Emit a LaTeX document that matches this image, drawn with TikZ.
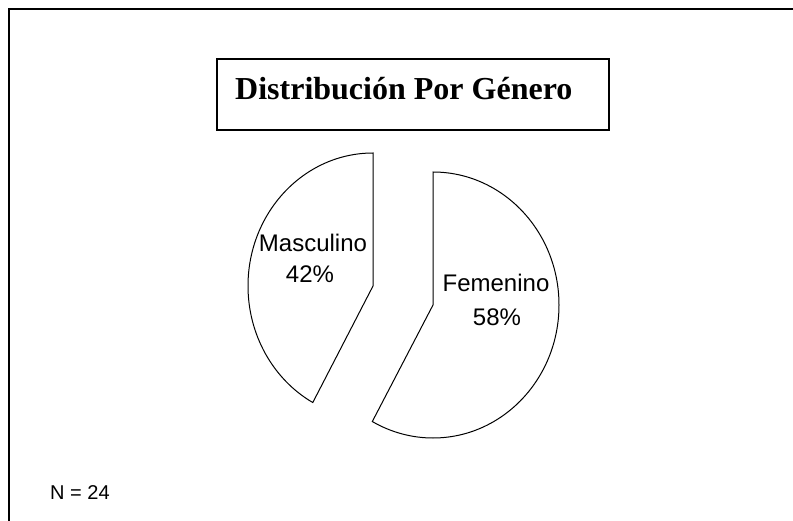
\documentclass[tikz,border=0pt]{standalone}
\usepackage{fontspec}
\setmainfont{Liberation Serif}
\newfontfamily\arialfont{Liberation Sans}
\tikzset{
  frameline/.style={line width=2pt, draw=black},
  titlebox/.style={line width=2pt, draw=black},
  slice/.style={line width=1pt, draw=black, fill=white, line join=miter},
  pielabel/.style={inner sep=0pt, anchor=base, font=\arialfont\fontsize{24}{28}\selectfont},
  notelabel/.style={inner sep=0pt, anchor=base west, font=\arialfont\fontsize{20}{24}\selectfont},
  titlelabel/.style={inner sep=0pt, anchor=base west, font=\bfseries\fontsize{32}{36}\selectfont}
}
\begin{document}
\begin{tikzpicture}[x=1pt,y=1pt]
\useasboundingbox (0,0) rectangle (793,-521);
\fill[white] (0,0) rectangle (793,-521);
% outer frame (only top and left visible)
\draw[frameline] (9,-521) -- (9,-9.3) -- (793,-9.3);
% title
\draw[titlebox] (217.3,-58.7) rectangle (608.7,-129.7);
\node[titlelabel] (title) at (235,-100) {Distribución Por Género};
% Masculino slice
\coordinate (mapex) at (373,-286);
\draw[slice] (mapex) -- ++(0,133) arc[start angle=90, end angle=241.2, x radius=125, y radius=133] -- cycle;
% Femenino slice
\coordinate (fapex) at (433,-305);
\draw[slice] (fapex) -- ++(0,133) arc[start angle=90, end angle=-118.8, x radius=126, y radius=133] -- cycle;
% labels
\node[pielabel] (masc) at (313,-252) {Masculino};
\node[pielabel] (mascp) at (310,-283) {42\%};
\node[pielabel] (fem) at (496,-292) {Femenino};
\node[pielabel] (femp) at (497,-326) {58\%};
\node[notelabel] (n) at (50,-499) {N = 24};
\end{tikzpicture}
\end{document}
